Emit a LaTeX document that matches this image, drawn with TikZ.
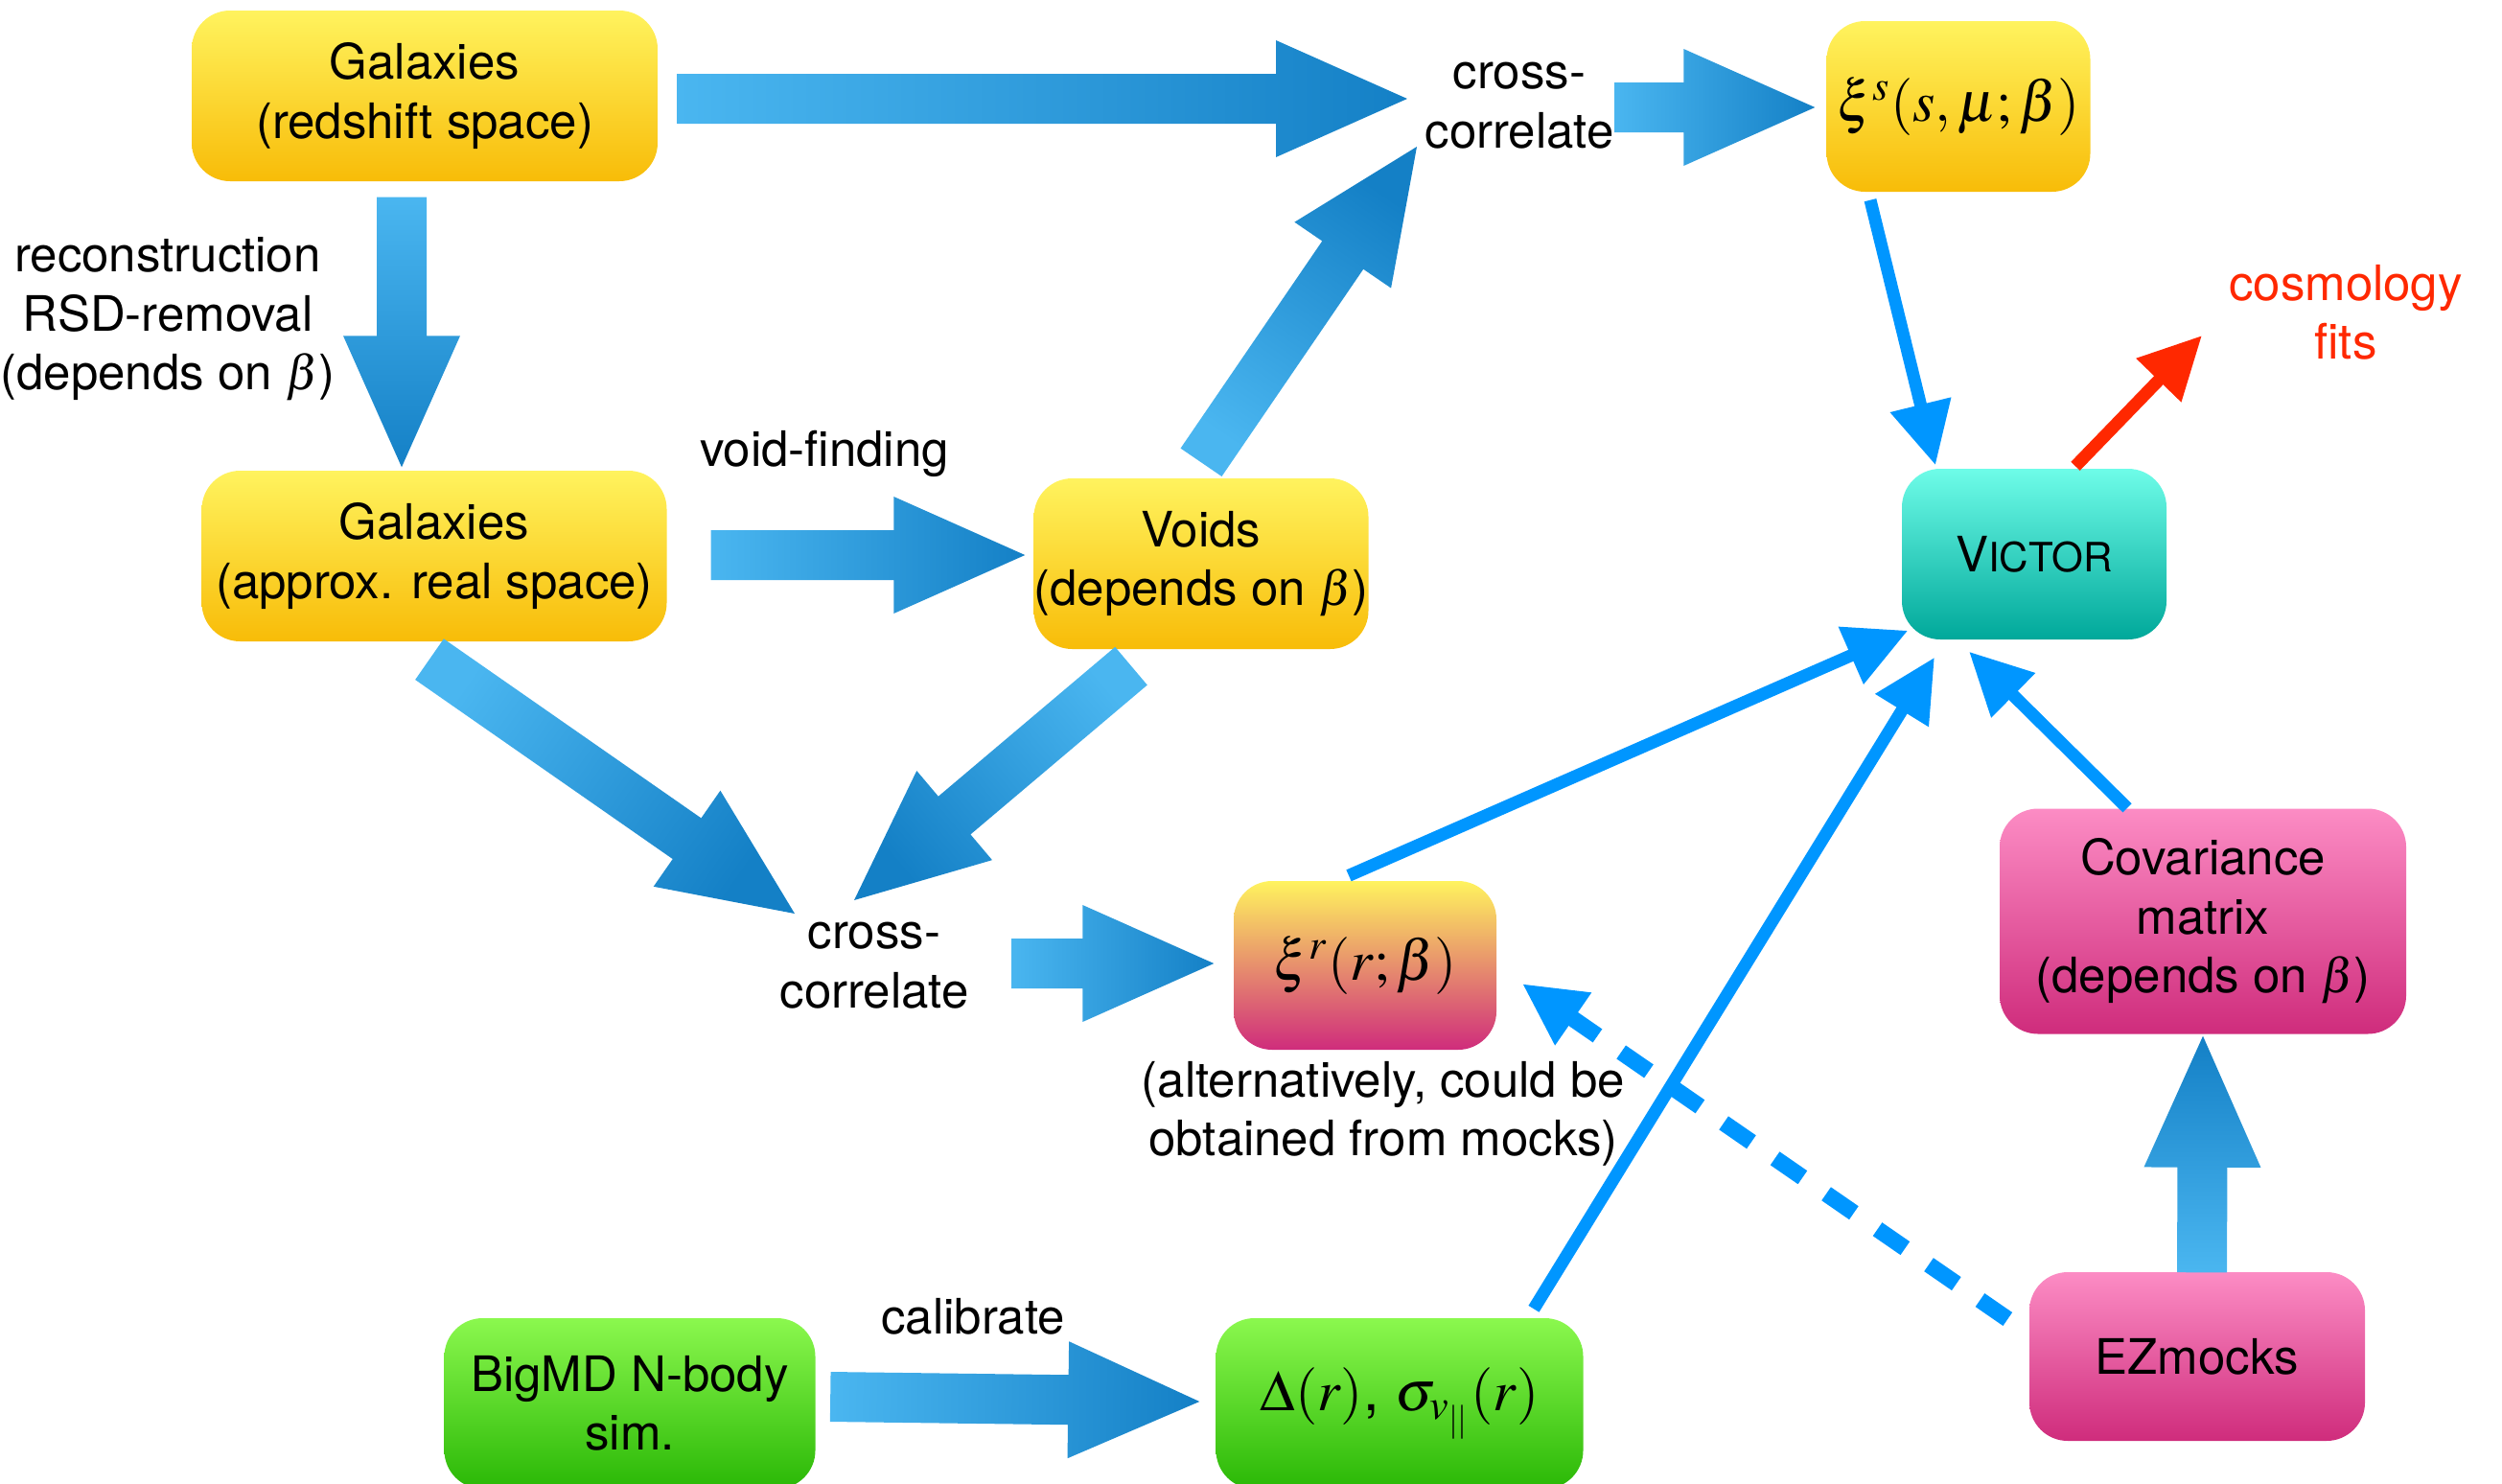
\documentclass[tikz,border=0pt]{standalone}
\usepackage{mathptmx}
\usepackage[no-math]{fontspec}
\setmainfont{TeX Gyre Heros}
\usetikzlibrary{calc,arrows.meta}
\definecolor{yeltop}{RGB}{255,243,94}
\definecolor{yelbot}{RGB}{248,188,8}
\definecolor{pinktop}{RGB}{252,140,196}
\definecolor{pinkbot}{RGB}{207,44,124}
\definecolor{greentop}{RGB}{139,248,78}
\definecolor{greenbot}{RGB}{42,184,6}
\definecolor{tealtop}{RGB}{110,252,232}
\definecolor{tealbot}{RGB}{0,168,154}
\definecolor{fatlight}{RGB}{74,182,240}
\definecolor{fatdark}{RGB}{20,128,198}
\definecolor{linkblue}{RGB}{0,150,255}
\definecolor{fitred}{RGB}{255,40,0}
% broad shaded arrow between two points
\newcommand{\fatarrow}[2]{%
  \coordinate (fa-s) at #1;
  \coordinate (fa-t) at #2;
  \coordinate (fa-h) at ($(fa-t)!1.37cm!(fa-s)$);
  \path let \p1=(fa-s), \p2=(fa-t), \n1={atan2(\y2-\y1,\x2-\x1)-90} in \pgfextra{\xdef\faang{\n1}};
  \shade[top color=fatdark, bottom color=fatlight, shading angle=\faang]
    ($(fa-s)!0.26cm!90:(fa-t)$) -- ($(fa-h)!0.26cm!90:(fa-t)$) -- ($(fa-h)!0.61cm!90:(fa-t)$) -- (fa-t)
    -- ($(fa-h)!0.61cm!-90:(fa-t)$) -- ($(fa-h)!0.26cm!-90:(fa-t)$) -- ($(fa-s)!0.26cm!-90:(fa-t)$) -- cycle;}
\begin{document}
\begin{tikzpicture}[
  every node/.style={font=\fontsize{14.5}{17.5}\selectfont, align=center},
  box/.style={rounded corners=0.4cm, inner sep=0pt, minimum height=1.78cm},
  yellowbox/.style={box, top color=yeltop, bottom color=yelbot},
  pinkbox/.style={box, top color=pinktop, bottom color=pinkbot},
  greenbox/.style={box, top color=greentop, bottom color=greenbot},
  tealbox/.style={box, top color=tealtop, bottom color=tealbot},
  mixbox/.style={box, top color=yeltop, bottom color=pinkbot},
  bigmath/.style={font=\fontsize{17}{20}\selectfont},
  link/.style={line width=0.13cm, color=linkblue, -{Triangle[length=0.65cm,width=0.62cm]}}
]
\useasboundingbox (0,0) rectangle (26.10,-15.47);

\node[yellowbox, minimum width=4.86cm] (galz) at (4.43,-1.00) {Galaxies\\(redshift space)};
\node[yellowbox, minimum width=4.85cm] (galr) at (4.53,-5.80) {Galaxies\\(approx. real space)};
\node[yellowbox, minimum width=3.49cm] (voids) at (12.53,-5.88) {Voids\\(depends on $\beta$)};
\node[yellowbox, minimum width=2.75cm, bigmath] (xis) at (20.43,-1.11) {$\xi^s(s,\mu;\beta)$};
\node[tealbox, minimum width=2.76cm] (victor) at (21.22,-5.78) {V{\fontsize{12}{14}\selectfont ICTOR}};
\node[mixbox, minimum width=2.74cm, minimum height=1.76cm, bigmath] (xir) at (14.24,-10.07) {$\xi^r(r;\beta)$};
\node[pinkbox, minimum width=4.24cm, minimum height=2.35cm] (covmat) at (22.98,-9.61) {Covariance\\matrix\\(depends on $\beta$)};
\node[pinkbox, minimum width=3.50cm, minimum height=1.76cm] (ezmocks) at (22.92,-14.15) {EZmocks};
\node[greenbox, minimum width=3.87cm] (bigmd) at (6.57,-14.64) {BigMD N-body\\sim.};
\node[greenbox, minimum width=3.83cm, bigmath] (delta) at (14.60,-14.64) {$\Delta(r)$, $\sigma_{v_{||}}(r)$};

\node (ccup) at (15.85,-1.10) {cross-\\correlate};
\node (cclow) at (9.12,-10.07) {cross-\\correlate};
\node (recon) at (1.75,-3.33) {reconstruction\\RSD-removal\\(depends on $\beta$)};
\node (voidfind) at (8.60,-4.73) {void-finding};
\node (calib) at (10.15,-13.73) {calibrate};
\node[text=fitred] (cosmo) at (24.47,-3.26) {cosmology\\fits};
\node (altnote) at (14.43,-11.62) {(alternatively, could be\\obtained from mocks)};

\fatarrow{([xshift=0.2cm,yshift=-0.03cm]galz.east)}{([xshift=-1.17cm,yshift=0.07cm]ccup.center)}
\fatarrow{([xshift=-0.24cm,yshift=-0.16cm]galz.south)}{([xshift=-0.34cm,yshift=0.03cm]galr.north)}
\fatarrow{([xshift=0.455cm,yshift=0.01cm]galr.east)}{([xshift=-0.085cm,yshift=0.09cm]voids.west)}
\fatarrow{([yshift=0.16cm]voids.north)}{([xshift=-1.07cm,yshift=-0.43cm]ccup.center)}
\fatarrow{([xshift=0.99cm,yshift=-0.02cm]ccup.center)}{([xshift=-0.115cm,yshift=-0.01cm]xis.west)}
\fatarrow{([xshift=-0.05cm,yshift=-0.18cm]galr.south)}{([xshift=-0.83cm,yshift=0.54cm]cclow.center)}
\fatarrow{([xshift=-0.73cm,yshift=-0.17cm]voids.south)}{([xshift=-0.21cm,yshift=0.68cm]cclow.center)}
\fatarrow{([xshift=1.43cm,yshift=0.02cm]cclow.center)}{([xshift=-0.2cm,yshift=0.02cm]xir.west)}
\fatarrow{([xshift=0.15cm,yshift=0.07cm]bigmd.east)}{([xshift=-0.165cm,yshift=0.02cm]delta.west)}
\fatarrow{([xshift=0.05cm,yshift=-0.01cm]ezmocks.north)}{([yshift=-0.015cm]covmat.south)}

\draw[link] ([xshift=-0.92cm,yshift=-0.08cm]xis.south) -- ([xshift=-1.03cm,yshift=0.03cm]victor.north);
\draw[link] ([xshift=-0.17cm,yshift=0.05cm]xir.north) -- ([xshift=0.07cm,yshift=0.10cm]victor.south west);
\draw[link] ([xshift=1.40cm,yshift=0.09cm]delta.north) -- ([xshift=-1.04cm,yshift=-0.18cm]victor.south);
\draw[link] ([xshift=-0.79cm]covmat.north) -- ([xshift=-0.68cm,yshift=-0.12cm]victor.south);
\draw[link, line width=0.17cm, dash pattern=on 0.35cm off 0.3cm] ([xshift=-0.22cm,yshift=0.39cm]ezmocks.west) -- ([xshift=0.26cm,yshift=-0.19cm]xir.east);
\draw[link, color=fitred] ([xshift=0.43cm,yshift=0.02cm]victor.north) -- ([xshift=-1.5cm,yshift=-0.24cm]cosmo.center);
\end{tikzpicture}
\end{document}
